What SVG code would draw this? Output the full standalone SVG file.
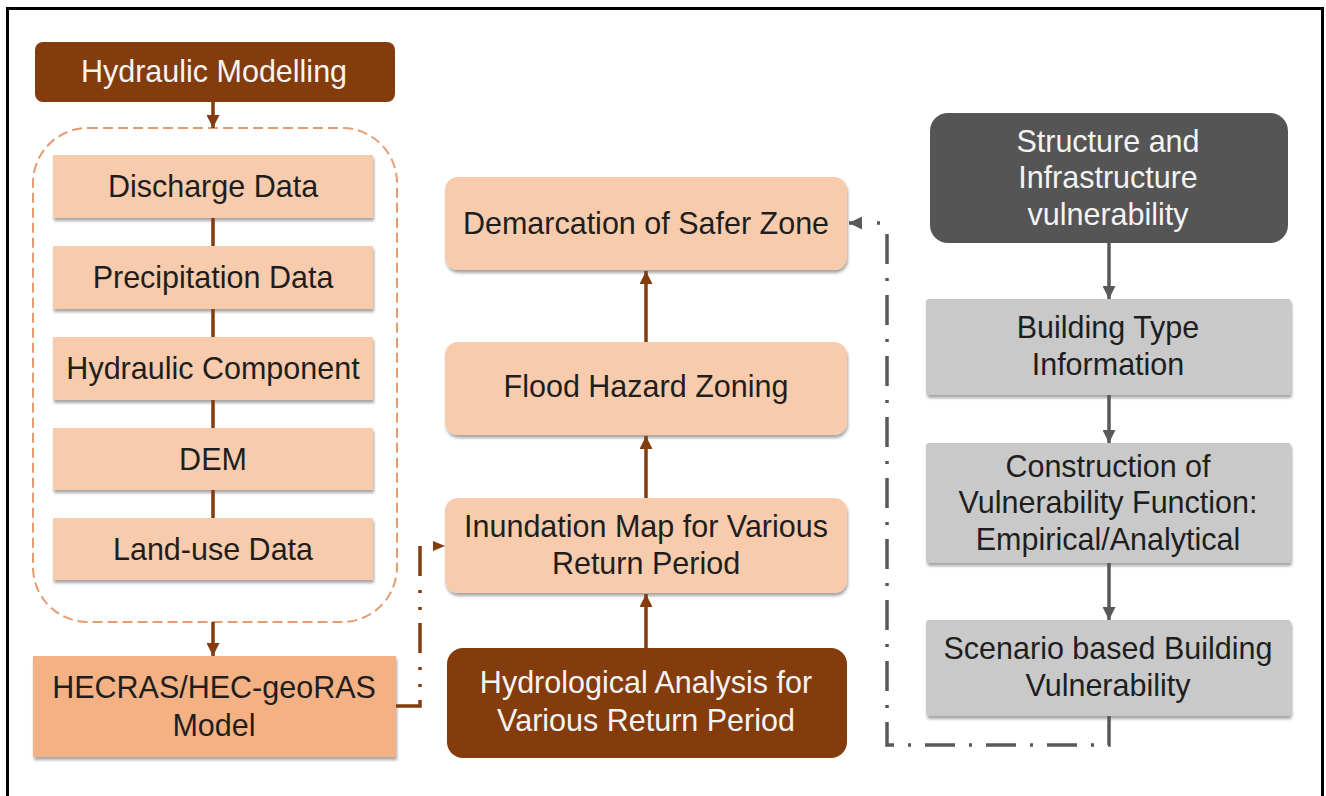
<svg xmlns="http://www.w3.org/2000/svg" width="1326" height="796" viewBox="0 0 1326 796">
  <defs>
    <filter id="sh" x="-5%" y="-10%" width="110%" height="130%">
      <feDropShadow dx="1" dy="3" stdDeviation="1.5" flood-color="#000" flood-opacity="0.35"/>
    </filter>
    <marker id="ab" viewBox="0 0 10 10" refX="10" refY="5" markerWidth="13" markerHeight="13" markerUnits="userSpaceOnUse" orient="auto">
      <path d="M0,0 L10,5 L0,10 z" fill="#843C0C"/>
    </marker>
    <marker id="ag" viewBox="0 0 10 10" refX="10" refY="5" markerWidth="13" markerHeight="13" markerUnits="userSpaceOnUse" orient="auto">
      <path d="M0,0 L10,5 L0,10 z" fill="#595959"/>
    </marker>
  </defs>
  <style>
    text { font-family: "Liberation Sans", Arial, sans-serif; font-size: 30.5px; text-anchor: middle; }
    .dk { fill: #1E1E1E; }
    .wt { fill: #F4F4F4; }
    .brown { fill: #843C0C; }
    .peach { fill: #F8CBAD; filter: url(#sh); }
    .orange { fill: #F4B183; filter: url(#sh); }
    .dgray { fill: #555555; }
    .lgray { fill: #C9C9C9; filter: url(#sh); }
    .cb { stroke: #843C0C; stroke-width: 3.5; fill: none; }
    .cg { stroke: #595959; stroke-width: 3.5; fill: none; }
  </style>

  <rect x="7.5" y="8.5" width="1315" height="800" fill="#FFFFFF" stroke="#000" stroke-width="3"/>

  <g id="hydraulic-modelling">
    <rect x="35" y="42" width="360" height="60" rx="8" class="brown"/>
    <text x="214" y="82" class="wt">Hydraulic Modelling</text>
  </g>

  <g id="input-group">
    <rect x="33" y="128" width="364" height="494" rx="55" fill="none" stroke="#E59B70" stroke-width="2" stroke-dasharray="10 5"/>
  </g>

  <g id="discharge-data">
    <rect x="53" y="155" width="320" height="63" class="peach"/>
    <text x="213" y="197" class="dk">Discharge Data</text>
  </g>
  <g id="precipitation-data">
    <rect x="53" y="246" width="320" height="63" class="peach"/>
    <text x="213" y="288" class="dk">Precipitation Data</text>
  </g>
  <g id="hydraulic-component">
    <rect x="53" y="337" width="320" height="63" class="peach"/>
    <text x="213" y="379" class="dk">Hydraulic Component</text>
  </g>
  <g id="dem">
    <rect x="53" y="428" width="320" height="62" class="peach"/>
    <text x="213" y="470" class="dk">DEM</text>
  </g>
  <g id="land-use-data">
    <rect x="53" y="518" width="320" height="62" class="peach"/>
    <text x="213" y="560" class="dk">Land-use Data</text>
  </g>

  <g id="hecras-model">
    <rect x="33" y="656" width="363" height="101" class="orange"/>
    <text x="214" y="698" class="dk">HECRAS/HEC-geoRAS</text>
    <text x="214" y="736" class="dk">Model</text>
  </g>

  <g id="demarcation-safer-zone">
    <rect x="445" y="177" width="402" height="93" rx="13" class="peach"/>
    <text x="646" y="234" class="dk">Demarcation of Safer Zone</text>
  </g>
  <g id="flood-hazard-zoning">
    <rect x="445" y="342" width="402" height="93" rx="13" class="peach"/>
    <text x="646" y="397" class="dk">Flood Hazard Zoning</text>
  </g>
  <g id="inundation-map">
    <rect x="445" y="498" width="402" height="95" rx="13" class="peach"/>
    <text x="646" y="537" class="dk">Inundation Map for Various</text>
    <text x="646" y="574" class="dk">Return Period</text>
  </g>
  <g id="hydrological-analysis">
    <rect x="447" y="648" width="400" height="110" rx="16" class="brown"/>
    <text x="646" y="693" class="wt">Hydrological Analysis for</text>
    <text x="646" y="731" class="wt">Various Return Period</text>
  </g>

  <g id="structure-infrastructure">
    <rect x="930" y="113" width="358" height="130" rx="18" class="dgray"/>
    <text x="1108" y="152" class="wt">Structure and</text>
    <text x="1108" y="188" class="wt">Infrastructure</text>
    <text x="1108" y="225" class="wt">vulnerability</text>
  </g>
  <g id="building-type">
    <rect x="926" y="299" width="365" height="96" rx="3" class="lgray"/>
    <text x="1108" y="338" class="dk">Building Type</text>
    <text x="1108" y="375" class="dk">Information</text>
  </g>
  <g id="vulnerability-function">
    <rect x="926" y="443" width="365" height="120" rx="3" class="lgray"/>
    <text x="1108" y="477" class="dk">Construction of</text>
    <text x="1108" y="513" class="dk">Vulnerability Function:</text>
    <text x="1108" y="550" class="dk">Empirical/Analytical</text>
  </g>
  <g id="scenario-building-vulnerability">
    <rect x="926" y="620" width="365" height="96" rx="3" class="lgray"/>
    <text x="1108" y="659" class="dk">Scenario based Building</text>
    <text x="1108" y="696" class="dk">Vulnerability</text>
  </g>

  <g id="connectors">
    <path d="M213,102 V128" class="cb" marker-end="url(#ab)"/>
    <path d="M213,218 V246 M213,309 V337 M213,400 V428 M213,490 V518" class="cb"/>
    <path d="M213,622 V656" class="cb" marker-end="url(#ab)"/>
    <path d="M396,706 H420 V544" class="cb" stroke-width="3" stroke-dasharray="30 13 3 14 3 14"/>
    <path d="M433,541 L445,546 L433,551 z" fill="#843C0C"/>
    <path d="M646,648 V594" class="cb" marker-end="url(#ab)"/>
    <path d="M646,498 V436" class="cb" marker-end="url(#ab)"/>
    <path d="M646,342 V271" class="cb" marker-end="url(#ab)"/>
    <path d="M1109,243 V299" class="cg" marker-end="url(#ag)"/>
    <path d="M1109,395 V443" class="cg" marker-end="url(#ag)"/>
    <path d="M1109,563 V620" class="cg" marker-end="url(#ag)"/>
    <path d="M1109,716 V745 H887 V228" class="cg" stroke-width="3" stroke-dasharray="30 14 3 14"/>
    <path d="M877,223 H880" class="cg" stroke-width="3"/>
    <path d="M862,223 H849" class="cg" stroke-width="3" marker-end="url(#ag)"/>
  </g>
</svg>
